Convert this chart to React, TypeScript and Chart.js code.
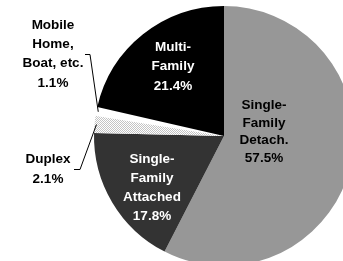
import React, { useEffect, useRef } from "react";
import { Chart, registerables } from "chart.js";

Chart.register(...registerables);

// ---- data ----
const categories = [
  "Single-Family Detach.",
  "Single-Family Attached",
  "Duplex",
  "Mobile Home, Boat, etc.",
  "Multi-Family",
];
const shares = [57.5, 17.8, 2.1, 1.1, 21.4];
const nameLines = [
  ["Single-", "Family", "Detach."],
  ["Single-", "Family", "Attached"],
  ["Duplex"],
  ["Mobile", "Home,", "Boat, etc."],
  ["Multi-", "Family"],
];

// ---- layout / style ----
const sliceColors = ["#979797", "#333333", "PATTERN", "#ffffff", "#000000"];
const textColors = ["#000000", "#ffffff", "#000000", "#000000", "#ffffff"];
// offsets of label block centres relative to the pie centre, line heights
const placement = [
  { dx: 40, dy: -4, lh: 17.5 },
  { dx: -72, dy: 51.5, lh: 19 },
  { dx: -176, dy: 33, lh: 20 },
  { dx: -171, dy: -82, lh: 19.3 },
  { dx: -51, dy: -69.5, lh: 19.5 },
];
// leader lines: [tick start dx, tick end dx, dy] relative to centre, or null
const leaders: (null | { x0: number; x1: number; dy: number })[] = [
  null,
  null,
  { x0: -150, x1: -144, dy: 33 },
  { x0: -139, x1: -134, dy: -82 },
  null,
];

function makePattern(): CanvasPattern | string {
  const c = document.createElement("canvas");
  c.width = 2;
  c.height = 2;
  const g = c.getContext("2d");
  if (!g) return "#dddddd";
  g.fillStyle = "#ffffff";
  g.fillRect(0, 0, 2, 2);
  g.fillStyle = "#c4c4c4";
  g.fillRect(0, 0, 1, 1);
  g.fillRect(1, 1, 1, 1);
  const p = g.createPattern(c, "repeat");
  return p || "#dddddd";
}

const labelPlugin = {
  id: "pieLabels",
  afterDatasetsDraw(chart: any) {
    const ctx = chart.ctx as CanvasRenderingContext2D;
    const meta = chart.getDatasetMeta(0);
    ctx.save();
    ctx.font = 'bold 13.5px "Liberation Sans", Arial, sans-serif';
    ctx.textAlign = "center";
    ctx.textBaseline = "middle";
    meta.data.forEach((arc: any, i: number) => {
      const { x, y, startAngle, endAngle, outerRadius } = arc.getProps(
        ["x", "y", "startAngle", "endAngle", "outerRadius"],
        true
      );
      const lines = [...nameLines[i], shares[i].toFixed(1) + "%"];
      const pl = placement[i];
      const bx = x + pl.dx;
      const by = y + pl.dy;
      const top = by - ((lines.length - 1) * pl.lh) / 2;
      ctx.fillStyle = textColors[i];
      lines.forEach((t, k) => ctx.fillText(t, bx, top + k * pl.lh));
      const ld = leaders[i];
      if (ld) {
        const mid = (startAngle + endAngle) / 2;
        const r = outerRadius * 0.985;
        const ex = x + r * Math.cos(mid);
        const ey = y + r * Math.sin(mid);
        ctx.strokeStyle = "#000000";
        ctx.lineWidth = 1;
        ctx.beginPath();
        ctx.moveTo(x + ld.x0, y + ld.dy + 0.5);
        ctx.lineTo(x + ld.x1, y + ld.dy + 0.5);
        ctx.lineTo(ex, ey);
        ctx.stroke();
      }
    });
    ctx.restore();
  },
};

export default function App() {
  const ref = useRef<HTMLCanvasElement | null>(null);
  useEffect(() => {
    if (!ref.current) return;
    const pattern = makePattern();
    const colors = sliceColors.map((c) => (c === "PATTERN" ? pattern : c));
    const chart = new Chart(ref.current, {
      type: "pie",
      data: {
        labels: categories,
        datasets: [
          {
            data: shares,
            backgroundColor: colors as any,
            borderWidth: 0,
            hoverOffset: 0,
          },
        ],
      },
      options: {
        responsive: false,
        animation: false,
        events: [],
        layout: { padding: { left: 94, right: 6, top: 6, bottom: 4 } },
        plugins: {
          legend: { display: false },
          tooltip: { enabled: false },
        },
      },
      plugins: [labelPlugin],
    });
    return () => chart.destroy();
  }, []);
  return (
    <div
      style={{
        position: "absolute",
        left: 0,
        top: 0,
        width: 343,
        height: 261,
        background: "#ffffff",
        overflow: "hidden",
      }}
    >
      <canvas ref={ref} width={360} height={270} style={{ display: "block" }} />
    </div>
  );
}
